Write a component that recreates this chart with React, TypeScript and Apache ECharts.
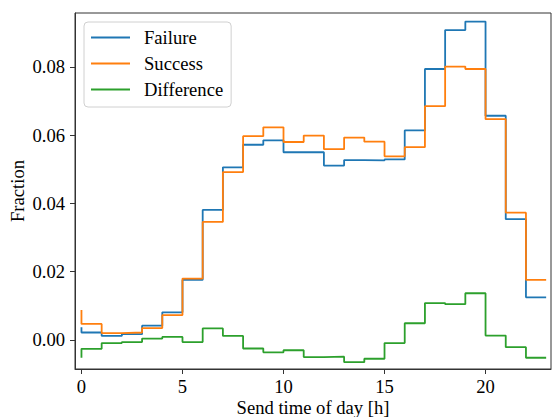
import React, { useEffect, useRef } from "react";
import * as echarts from "echarts";

const hours = [0, 1, 2, 3, 4, 5, 6, 7, 8, 9, 10, 11, 12, 13, 14, 15, 16, 17, 18, 19, 20, 21, 22, 23];
const failure = [0.0037, 0.0022, 0.0012, 0.0017, 0.0042, 0.0081, 0.0176, 0.0381, 0.0506, 0.0572, 0.0585, 0.055, 0.055, 0.0511, 0.0527, 0.0526, 0.0529, 0.0614, 0.0794, 0.0908, 0.0933, 0.0657, 0.0354, 0.0125];
const success = [0.0088, 0.0047, 0.002, 0.0022, 0.0035, 0.0073, 0.018, 0.0346, 0.0492, 0.0597, 0.0623, 0.058, 0.0599, 0.0559, 0.0593, 0.0581, 0.0538, 0.0565, 0.0685, 0.0801, 0.0794, 0.0647, 0.0373, 0.0176];
const difference = [-0.0052, -0.0026, -0.0009, -0.0006, 0.0004, 0.0009, -0.0006, 0.0034, 0.0012, -0.0025, -0.0036, -0.003, -0.005, -0.0049, -0.0065, -0.0055, -0.0009, 0.0049, 0.0108, 0.0105, 0.0137, 0.0013, -0.0021, -0.0052];
const xTicks = [0, 5, 10, 15, 20];
const yTicks = [0, 0.02, 0.04, 0.06, 0.08];
const seriesNames = ["Failure", "Success", "Difference"];
const colors = ["#1f77b4", "#ff7f0e", "#2ca02c"];

const FONT = "'Liberation Serif', 'Times New Roman', serif";
const FS = 18.6;

export default function App() {
  const ref = useRef<HTMLDivElement>(null);
  useEffect(() => {
    document.body.style.margin = "0";
    const chart = echarts.init(ref.current!, null, { renderer: "svg" });
    const values = [failure, success, difference];
    chart.setOption({
      animation: false,
      textStyle: { fontFamily: FONT },
      grid: {
        left: 75,
        right: 1,
        top: 13,
        bottom: 48,
        containLabel: false,
        outerBoundsMode: "none",
        show: true,
        borderColor: "#333",
        borderWidth: 1,
        backgroundColor: "transparent",
      },
      legend: {
        left: 84,
        top: 22,
        orient: "vertical",
        data: seriesNames.map((n) => ({ name: n, icon: "rect" })),
        itemWidth: 39,
        itemHeight: 2,
        itemGap: 7,
        padding: [6, 8, 8, 7],
        borderColor: "#d0d0d0",
        borderWidth: 1,
        borderRadius: 4,
        backgroundColor: "rgba(255,255,255,0.8)",
        textStyle: {
          fontFamily: FONT,
          fontSize: FS,
          lineHeight: 19,
          color: "#000",
          padding: [0, 0, 0, 9],
        },
      },
      xAxis: {
        type: "value",
        min: -0.32,
        max: 23.24,
        name: "Send time of day [h]",
        nameLocation: "middle",
        nameGap: 29,
        nameMoveOverlap: false,
        nameTextStyle: { fontFamily: FONT, fontSize: FS, color: "#000" },
        splitLine: { show: false },
        axisLine: { show: true, onZero: false, lineStyle: { color: "#333", width: 1 } },
        axisTick: { show: true, length: 5, customValues: xTicks, lineStyle: { color: "#333" } },
        axisLabel: {
          customValues: xTicks,
          fontFamily: FONT,
          fontSize: FS,
          color: "#000",
          margin: 8,
        },
      },
      yAxis: {
        type: "value",
        min: -0.0085,
        max: 0.0958,
        name: "Fraction",
        nameLocation: "middle",
        nameGap: 48,
        nameMoveOverlap: false,
        nameRotate: 90,
        nameTextStyle: { fontFamily: FONT, fontSize: FS, color: "#000" },
        splitLine: { show: false },
        axisLine: { show: true, onZero: false, lineStyle: { color: "#333", width: 1 } },
        axisTick: { show: true, length: 5, customValues: yTicks, lineStyle: { color: "#333" } },
        axisLabel: {
          customValues: yTicks,
          fontFamily: FONT,
          fontSize: FS,
          color: "#000",
          margin: 10,
          formatter: (v: number) => v.toFixed(2),
        },
      },
      series: seriesNames.map((name, i) => ({
        name,
        type: "line",
        step: "start",
        symbol: "none",
        color: colors[i],
        lineStyle: { color: colors[i], width: 1.8 },
        data: hours.map((h, j) => [h, values[i][j]]),
      })),
    });
    return () => chart.dispose();
  }, []);
  return <div ref={ref} style={{ width: 552, height: 417 }} />;
}
